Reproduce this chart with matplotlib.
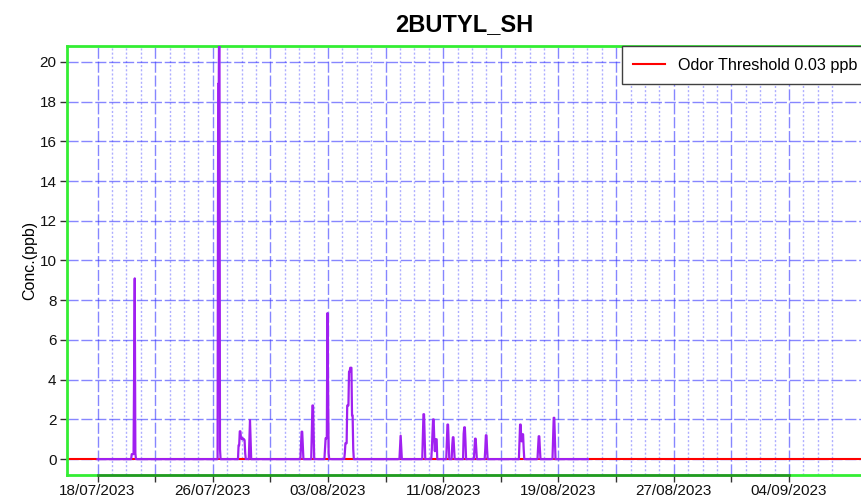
import numpy as np
import pandas as pd
import matplotlib
matplotlib.use('Agg')
import matplotlib.pyplot as plt
import matplotlib.dates as mdates
import matplotlib.transforms as mtrans

plt.rcParams['font.family'] = ['Liberation Sans', 'DejaVu Sans']

#%% data
title = '2BUTYL_SH'
threshold = 0.03
record_start = '2023-07-18 00:00'
record_end = '2023-08-21 01:00'

# start hour of each event and its hourly readings (ppb); between events the record is 0
event_start = ['2023-07-20 09:00', '2023-07-26 09:00', '2023-07-27 19:00', '2023-07-28 13:00',
               '2023-08-01 03:00', '2023-08-01 21:00', '2023-08-02 19:00', '2023-08-04 04:00',
               '2023-08-08 00:00', '2023-08-09 14:00', '2023-08-10 05:00', '2023-08-11 06:00',
               '2023-08-11 15:00', '2023-08-12 10:00', '2023-08-13 04:00', '2023-08-13 22:00',
               '2023-08-16 07:00', '2023-08-17 14:00', '2023-08-18 15:00']
event_vals = [[0.25, 0.25, 0.25, 0.25, 4.5, 9.1, 0.3],
              [18.9, 18.9, 25.0, 0.5],
              [0.7, 0.7, 1.4, 1.4, 1.05, 1.05, 1.0, 1.05, 1.0, 1.0, 0.95, 0.3],
              [0.95, 1.97, 0.95],
              [0.65, 1.38, 1.38, 0.65],
              [1.3, 2.7, 2.7, 1.3],
              [0.5, 1.05, 1.05, 1.05, 7.35, 3.6, 0.3],
              [0.3, 0.8, 0.8, 0.8, 2.7, 2.7, 2.7, 4.4, 4.4, 4.6, 4.6, 4.6, 2.2, 2.2, 0.5],
              [0.6, 1.18, 0.6],
              [1.1, 2.26, 2.26, 1.1],
              [0.5, 1.28, 2.0, 2.0, 1.0, 0.4, 1.0, 1.0, 1.0],
              [0.9, 1.74, 1.74, 0.9],
              [0.7, 1.1, 1.1, 0.5],
              [1.28, 1.6, 1.6, 0.9],
              [0.5, 1.03, 1.03, 0.5],
              [0.5, 1.2, 1.2, 0.5],
              [0.9, 1.74, 1.74, 0.9, 0.9, 1.25, 1.25, 0.5],
              [0.6, 1.15, 1.15, 0.5],
              [1.0, 2.08, 2.08, 1.0]]

major_ticks = pd.date_range('2023-07-18', '2023-09-04', freq='4D')
tick_labels = [d.strftime('%d/%m/%Y') if i % 2 == 0 else '' for i, d in enumerate(major_ticks)]
minor_days = [d for d in pd.date_range('2023-07-18', '2023-09-07', freq='D') if d not in major_ticks]
y_ticks = list(range(0, 21, 2))

#%% build the series
hr = pd.Timedelta(hours=1)
t = [pd.Timestamp(record_start)]
v = [0.0]
for s, vals in zip(event_start, event_vals):
    t0 = pd.Timestamp(s)
    t.append(t0 - hr); v.append(0.0)
    for i, val in enumerate(vals):
        t.append(t0 + i * hr); v.append(val)
    t.append(t0 + len(vals) * hr); v.append(0.0)
t.append(pd.Timestamp(record_end)); v.append(0.0)

#%% plot
fig = plt.figure(figsize=(8.61, 4.98), dpi=100)
ax = fig.add_axes([67/861, 23/498, 794/861, 429/498])

ax.plot(t, v, color='#a020f0', lw=1.6, zorder=3)
ax.axhline(threshold, color='#ff0000', lw=1.5, label='Odor Threshold 0.03 ppb', zorder=2)

ax.set_xlim(pd.Timestamp('2023-07-18') - pd.Timedelta(days=2.12), pd.Timestamp('2023-09-09'))
ax.set_ylim(-0.8, 20.8)

ax.set_xticks(major_ticks)
ax.set_xticklabels(tick_labels)
ax.set_xticks(minor_days, minor=True)
ax.set_yticks(y_ticks)

ax.tick_params(axis='both', which='major', labelsize=11, length=5, width=1,
               color='#333333', labelcolor='#111111')
ax.tick_params(axis='x', which='major', pad=1.5)
ax.tick_params(axis='y', which='major', pad=2.5)
ax.tick_params(axis='x', which='minor', length=0)

ax.set_axisbelow(True)
ax.grid(which='major', axis='both', color='#3535ff', alpha=0.6, lw=1, ls=(0, (8, 2)))
ax.grid(which='minor', axis='x', color='#3535ff', alpha=0.4, lw=1, ls=(0, (1.5, 1.5)))

for side in ['left', 'top', 'bottom']:
    ax.spines[side].set_color('#33ee33')
    ax.spines[side].set_linewidth(2)
ax.spines['right'].set_visible(False)

# darker axis line over the tick span
trans = mtrans.blended_transform_factory(ax.transData, ax.transAxes)
ax.plot([major_ticks[0], major_ticks[-1]], [0, 0], transform=trans, color='#000000',
        alpha=0.35, lw=2, clip_on=False, zorder=5)

ax.set_ylabel('Conc.(ppb)', fontsize=11.5, labelpad=2)
ax.set_title(title, fontsize=17, fontweight='bold', pad=11)

leg = ax.legend(loc='upper right', bbox_to_anchor=(1.0095, 1.0), borderaxespad=0,
                fontsize=11.6, fancybox=False, framealpha=1, edgecolor='#404040',
                borderpad=0.72, handlelength=2.0, handletextpad=0.75)
leg.get_frame().set_linewidth(1.0)

fig.savefig('out.png', dpi=100)
